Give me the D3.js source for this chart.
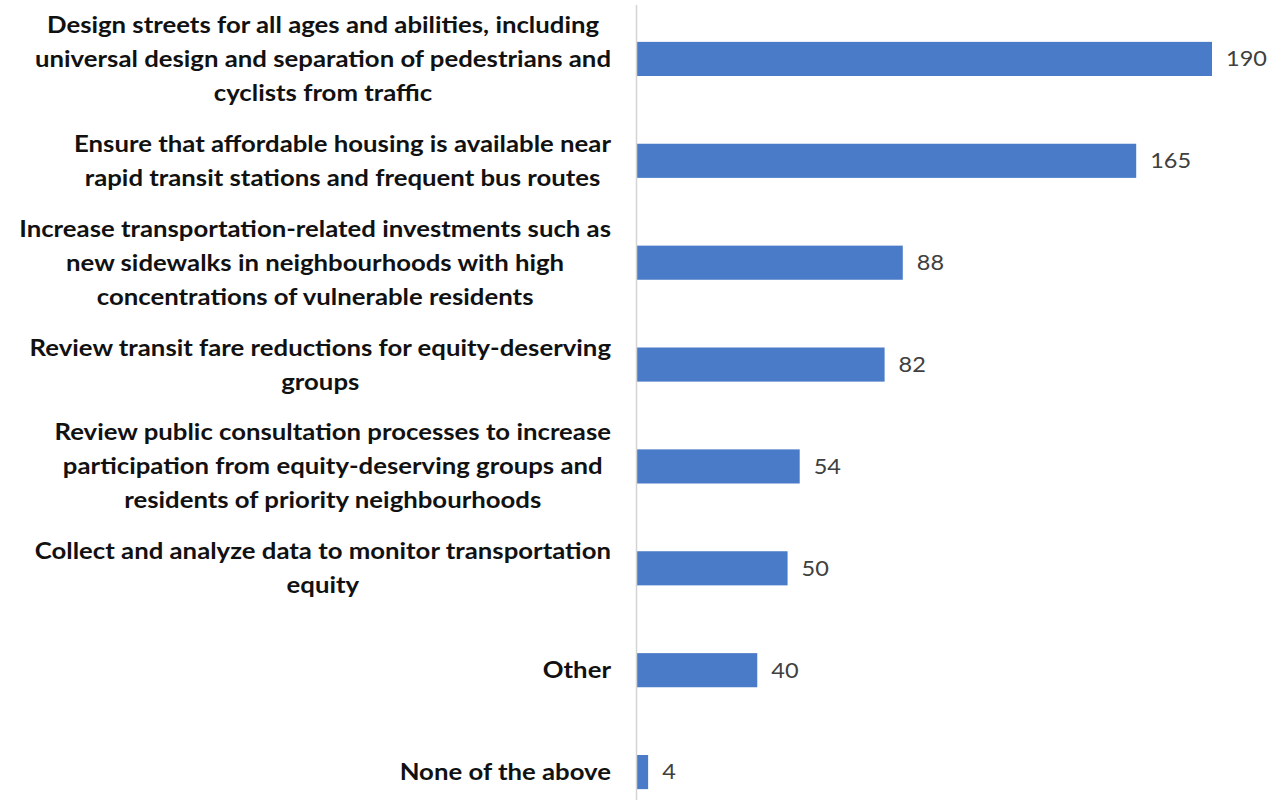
<!DOCTYPE html>
<html>
<head>
<meta charset="utf-8">
<script src="https://cdn.jsdelivr.net/npm/d3@7"></script>
<style>
  html, body { margin: 0; padding: 0; background: #fff; }
  svg { display: block; }
</style>
</head>
<body>
<svg id="chart" width="1283" height="802"></svg>
<script>
// Survey responses: equity actions selected
const categories = [
  "Design streets for all ages and abilities, including|universal design and separation of pedestrians and|cyclists from traffic",
  "Ensure that affordable housing is available near|rapid transit stations and frequent bus routes",
  "Increase transportation-related investments such as|new sidewalks in neighbourhoods with high|concentrations of vulnerable residents",
  "Review transit fare reductions for equity-deserving|groups",
  "Review public consultation processes to increase|participation from equity-deserving groups and|residents of priority neighbourhoods",
  "Collect and analyze data to monitor transportation|equity",
  "Other",
  "None of the above"
];
const values = [190, 165, 88, 82, 54, 50, 40, 4];

const svg = d3.select("#chart");
const axisX = 636;
const labelRight = 611;
const labelFont = "Lato, 'Open Sans', sans-serif";
const stretch = 1.12; // horizontal widening of the text glyphs

const x = d3.scaleLinear().domain([0, 190]).range([axisX, 1212]);
const y = d3.scaleBand()
  .domain(categories)
  .range([8, 823])
  .paddingInner(0.665)
  .paddingOuter(0.3325);

// Bars
svg.append("g")
  .selectAll("rect")
  .data(values)
  .join("rect")
  .attr("x", x(0))
  .attr("y", (d, i) => y(categories[i]))
  .attr("width", d => x(d) - x(0))
  .attr("height", y.bandwidth())
  .attr("fill", "#4a7bc8");

// Category axis line
svg.append("line")
  .attr("x1", axisX + 0.5).attr("x2", axisX + 0.5)
  .attr("y1", 5).attr("y2", 800)
  .attr("stroke", "#d4d4d4")
  .attr("stroke-width", 1.5);

// Value labels
svg.append("g")
  .selectAll("g")
  .data(values)
  .join("g")
  .attr("transform", (d, i) =>
    `translate(${x(d) + 14},${y(categories[i]) + y.bandwidth() / 2}) scale(${stretch},1)`)
  .append("text")
  .attr("dy", "0.35em")
  .attr("font-family", labelFont)
  .attr("font-size", 21)
  .attr("fill", "#404040")
  .text(d => d);

// Category labels: multi-line, centred within a right-aligned block
const lineH = 34;
const labels = svg.append("g");
categories.forEach(cat => {
  const lines = cat.split("|");
  const cy = y(cat) + y.bandwidth() / 2;
  const g = labels.append("g")
    .attr("transform", `translate(${labelRight},${cy}) scale(${stretch},1)`);
  const t = g.append("text")
    .attr("font-family", labelFont)
    .attr("font-weight", 700)
    .attr("font-size", 23)
    .attr("fill", "#111");
  const spans = lines.map((ln, j) => t.append("tspan")
    .attr("y", (j - (lines.length - 1) / 2) * lineH)
    .attr("dy", "0.35em")
    .text(ln));
  const maxW = d3.max(spans, s => s.node().getComputedTextLength());
  spans.forEach(s => s.attr("x", -maxW / 2).attr("text-anchor", "middle"));
});
</script>
</body>
</html>
